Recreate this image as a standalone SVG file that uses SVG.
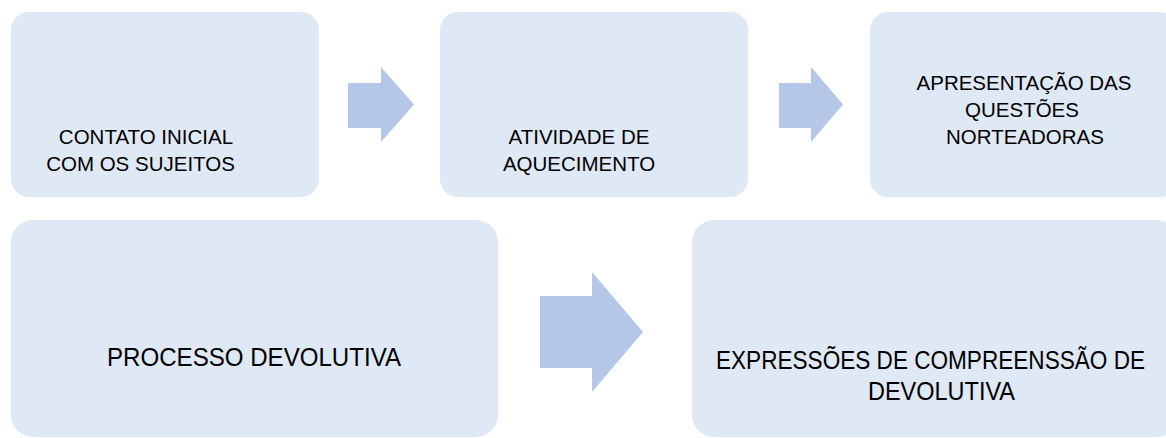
<svg xmlns="http://www.w3.org/2000/svg" width="1166" height="438" viewBox="0 0 1166 438">
<style>
.box{fill:#DEE9F5;}
.arr{fill:#B4C7E7;}
.t{font-family:"Liberation Sans",Arial,sans-serif;fill:#000;text-anchor:middle;}
.s{font-size:20.5px;}
.b{font-size:26px;}
</style>
<rect width="1166" height="438" fill="#FFFFFF"/>
<g id="n1">
<rect class="box" x="11" y="12" width="308" height="185" rx="18"/>
<text class="t s" x="146" y="144">CONTATO INICIAL</text>
<text class="t s" x="140.5" y="171">COM OS SUJEITOS</text>
</g>
<g id="n2">
<rect class="box" x="440" y="12" width="308" height="185" rx="18"/>
<text class="t s" x="579" y="144">ATIVIDADE DE</text>
<text class="t s" x="579" y="171">AQUECIMENTO</text>
</g>
<g id="n3">
<rect class="box" x="870" y="12" width="308" height="185" rx="18"/>
<text class="t s" x="1024" y="90">APRESENTAÇÃO DAS</text>
<text class="t s" x="1022" y="117">QUESTÕES</text>
<text class="t s" x="1025" y="144">NORTEADORAS</text>
</g>
<g id="n4">
<rect class="box" x="11" y="220" width="487" height="217" rx="22"/>
<text class="t b" x="254" y="366" textLength="294" lengthAdjust="spacingAndGlyphs">PROCESSO DEVOLUTIVA</text>
</g>
<g id="n5">
<rect class="box" x="692" y="220" width="487" height="217" rx="22"/>
<text class="t b" x="930.5" y="369" textLength="429" lengthAdjust="spacingAndGlyphs">EXPRESSÕES DE COMPREENSSÃO DE</text>
<text class="t b" x="941.5" y="400" textLength="147" lengthAdjust="spacingAndGlyphs">DEVOLUTIVA</text>
</g>
<g id="connectors">
<polygon class="arr" points="348,83 381,83 381,67 414,104.5 381,142 381,128 348,128"/>
<polygon class="arr" points="779,83 811,83 811,67 843,104.5 811,142 811,128 779,128"/>
<polygon class="arr" points="540,296 592,296 592,272 643,332 592,392 592,368 540,368"/>
</g>
</svg>
